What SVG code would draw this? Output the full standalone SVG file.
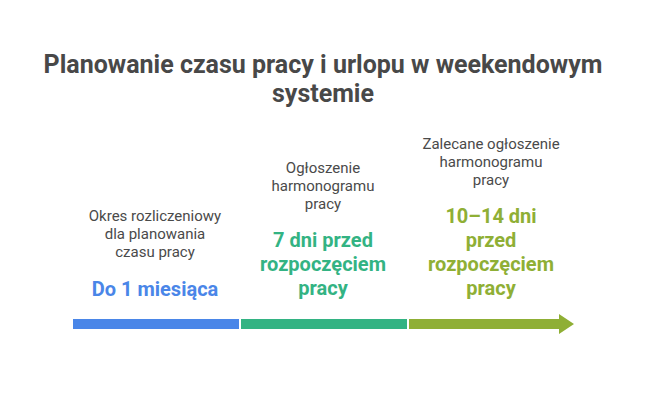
<svg xmlns="http://www.w3.org/2000/svg" width="648" height="408" viewBox="0 0 648 408">
<style>
text{font-family:Roboto,"Liberation Sans",sans-serif;text-anchor:middle}
.t{font-size:25px;font-weight:bold;fill:#484848}
.l{font-size:15px;fill:#4a4a4a}
.b{font-size:20px;font-weight:bold}
.blue{fill:#4A86E8}.green{fill:#33B383}.olive{fill:#8FAF35}
</style>
<rect width="648" height="408" fill="#fff"/>
<g id="title">
<text class="t" x="323" y="73">Planowanie czasu pracy i urlopu w weekendowym</text>
<text class="t" x="323" y="102">systemie</text>
</g>
<g id="connectors">
<rect class="blue" x="73" y="319" width="166" height="10"/>
<rect class="green" x="241" y="319" width="166" height="10"/>
<path class="olive" d="M409 319H559V314L574 324L559 334V329H409Z"/>
</g>
<g id="node1">
<text class="l" x="155" y="221">Okres rozliczeniowy</text>
<text class="l" x="155" y="239">dla planowania</text>
<text class="l" x="155" y="257">czasu pracy</text>
<text class="b blue" x="155" y="296">Do 1 miesiąca</text>
</g>
<g id="node2">
<text class="l" x="323" y="173">Ogłoszenie</text>
<text class="l" x="323" y="191">harmonogramu</text>
<text class="l" x="323" y="209">pracy</text>
<text class="b green" x="323" y="247">7 dni przed</text>
<text class="b green" x="323" y="271">rozpoczęciem</text>
<text class="b green" x="323" y="295">pracy</text>
</g>
<g id="node3">
<text class="l" x="491" y="149">Zalecane ogłoszenie</text>
<text class="l" x="491" y="167">harmonogramu</text>
<text class="l" x="491" y="185">pracy</text>
<text class="b olive" x="491" y="223">10–14 dni</text>
<text class="b olive" x="491" y="247">przed</text>
<text class="b olive" x="491" y="271">rozpoczęciem</text>
<text class="b olive" x="491" y="295">pracy</text>
</g>
</svg>
